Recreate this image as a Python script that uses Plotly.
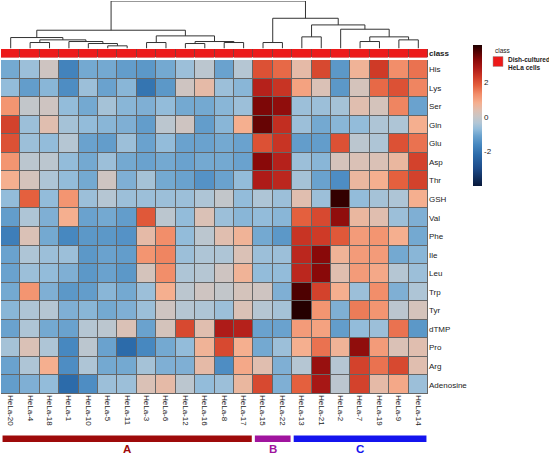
import plotly.graph_objects as go
import numpy as np

# ---------------- data ----------------
samples = ["HeLa-20", "HeLa-4", "HeLa-18", "HeLa-1", "HeLa-10", "HeLa-5", "HeLa-11",
           "HeLa-3", "HeLa-6", "HeLa-12", "HeLa-16", "HeLa-8", "HeLa-17", "HeLa-15",
           "HeLa-22", "HeLa-13", "HeLa-21", "HeLa-2", "HeLa-7", "HeLa-19", "HeLa-9", "HeLa-14"]
metabolites = ["His", "Lys", "Ser", "Gln", "Glu", "Asp", "Thr", "GSH", "Val", "Phe",
               "Ile", "Leu", "Trp", "Tyr", "dTMP", "Pro", "Arg", "Adenosine"]
groups = ["A"] * 13 + ["B"] * 2 + ["C"] * 7
group_colors = {"A": "#9E0A0A", "B": "#A0149E", "C": "#1414EE"}

His  = [-1.0, -0.6, 0.1, -1.7, -1.0, -1.0, -1.2, -1.3, -1.0, -0.6, -0.2, -1.1, -0.3, 2.0, 1.7, 0.5, 2.1, -1.3, 0.7, 2.3, 1.3, 1.6]
Lys  = [-0.7, -1.2, -0.8, -1.5, -0.6, -1.1, -0.8, -2.0, -1.3, 0.1, 0.5, -0.6, -0.8, 2.7, 2.4, 1.0, 0.3, -1.3, 0.2, 1.7, 2.0, 1.4]
Ser  = [1.2, -0.1, 0.1, -0.7, -1.0, -0.5, -0.8, -0.9, -0.7, -1.0, -1.0, -0.8, -0.6, 3.4, 3.2, -0.6, -0.6, -0.5, 0.4, 0.2, 1.4, -1.1]
Gln  = [2.2, -0.6, 0.4, -0.5, -0.7, -0.8, -0.9, -1.2, -0.2, 0.1, -1.2, -0.8, 0.8, 3.6, 2.5, -0.6, -1.0, -0.8, -0.7, -0.4, -0.4, 0.8]
Glu  = [2.0, -0.6, -0.7, -0.3, -1.1, -1.2, -0.6, -1.1, -0.7, -1.1, -1.1, -1.0, -1.1, 2.0, 2.4, -1.2, -1.2, 2.0, -0.2, -0.4, 2.0, 1.6]
Asp  = [1.2, -0.2, -0.2, -0.7, -1.0, -0.6, -1.0, -1.1, -1.0, -1.1, -1.0, -1.0, -1.1, 3.3, 2.7, -0.6, -0.8, 0.2, 0.3, 0.3, 0.6, 2.2]
Thr  = [0.8, 0.2, -0.4, -0.7, -1.0, 0.1, -0.9, -0.5, -1.0, -1.1, -1.4, -1.1, -0.7, 2.8, 2.6, -0.5, -1.1, -1.5, 0.6, 0.8, 1.8, 2.2]
GSH  = [-0.7, 1.8, -0.7, 1.2, -0.6, -0.3, -0.6, -0.6, -0.6, -0.6, -0.4, -0.1, -0.7, -0.4, -0.6, 0.4, -0.6, 4.0, -0.7, -0.5, -0.4, 0.8]
Val  = [-1.2, -0.4, -0.9, 0.8, -1.1, -1.0, -1.2, 1.9, -0.2, -0.7, 0.3, -0.6, -0.8, -0.7, -0.8, 1.8, 2.1, 3.2, 0.6, 0.4, -0.6, -0.9]
Phe  = [-1.8, 0.3, -1.0, -1.6, -1.3, -1.3, -1.4, 0.5, 1.3, -0.7, -0.2, 0.4, 0.7, -1.0, -1.3, 2.4, 2.3, 1.9, 1.1, 1.2, 0.8, -1.0]
Ile  = [-1.1, -0.4, -0.6, -0.6, -1.3, -1.1, -1.2, 1.2, 1.4, -0.6, -0.4, -0.4, 0.3, -0.6, -0.6, 2.6, 3.3, 0.7, 1.1, 1.1, -1.0, -0.8]
Leu  = [-1.1, -0.6, -0.7, -0.9, -1.3, -1.1, -1.3, 0.2, 1.3, -0.4, -0.3, 0.1, 0.7, -0.7, -0.7, 2.6, 3.3, 0.4, 1.1, 0.9, -0.3, -0.6]
Trp  = [-1.0, 1.2, -0.9, -1.3, -1.2, -0.8, -1.0, -0.6, 0.8, -0.2, 0.1, -0.1, 0.2, 0.1, -0.9, 3.8, 2.2, 0.8, -0.6, 1.3, -0.9, -0.4]
Tyr  = [-0.8, -0.4, -0.3, -0.9, -0.8, -1.0, -0.9, -0.6, 0.1, -0.3, -0.4, -0.6, 0.3, -0.3, -0.5, 4.1, 1.2, -0.9, 1.5, 1.2, -0.2, 0.2]
dTMP = [-1.1, -0.4, -1.0, -1.1, -0.3, -0.2, 0.3, -1.1, 0.2, 2.1, 0.4, 2.8, 2.7, -1.1, -1.1, 1.1, 1.0, -1.2, -0.7, -0.6, 1.6, -1.3]
Pro  = [-0.5, 0.3, -0.4, -1.6, -0.2, -1.1, -2.2, -1.6, -1.0, -0.7, 0.7, 2.1, 0.8, -1.0, -0.6, 0.8, 1.6, 0.7, 3.2, 1.1, 0.3, 0.4]
Arg  = [-1.1, -0.4, 0.8, -1.5, -0.4, -1.0, -1.0, -0.5, -0.9, -0.9, 0.5, -1.5, 0.9, 0.4, -0.9, -0.3, 3.1, -0.3, 2.2, 1.6, 2.1, 0.4]
Adenosine = [-1.2, -0.9, -0.7, -2.2, -1.5, -0.6, -0.6, 0.3, 0.5, -0.2, -0.7, -0.6, 0.6, 2.1, -0.9, 1.8, 2.9, -0.2, 2.2, 0.5, 0.9, -0.6]

Z = [His, Lys, Ser, Gln, Glu, Asp, Thr, GSH, Val, Phe, Ile, Leu, Trp, Tyr, dTMP, Pro, Arg, Adenosine]

# column dendrogram: (left node, right node, height); leaves 0..21, merges numbered from 22
merges = [
    (1, 2, 18), (5, 6, 8), (4, 23, 15), (3, 24, 21), (22, 25, 26), (0, 26, 33),
    (7, 8, 18), (9, 10, 15), (11, 12, 18), (29, 30, 21), (28, 31, 38), (27, 32, 55),
    (13, 14, 18), (15, 16, 35), (18, 19, 21), (20, 21, 26), (36, 37, 35),
    (17, 38, 58), (35, 39, 71), (34, 40, 91), (33, 41, 143),
]

zmin, zmax = -4.0, 4.15
cs_points = [(-4.0, "#08183A"), (-3.0, "#1D4A88"), (-2.2, "#2C6BAA"), (-1.6, "#4788C0"),
             (-1.1, "#6AA2CE"), (-0.7, "#93BCDA"), (-0.35, "#B2C6D5"), (0.0, "#C8C6C6"),
             (0.35, "#DDC0B3"), (0.8, "#F5AF8F"), (1.3, "#F28E6A"), (1.8, "#E4603E"),
             (2.3, "#CF3A27"), (2.8, "#AE1B18"), (3.3, "#890909"), (3.8, "#4E0101"),
             (4.15, "#1E0000")]
colorscale = [[(v - zmin) / (zmax - zmin), c] for v, c in cs_points]

# ---------------- layout helpers ----------------
W, H = 549, 456
FONT = "Liberation Sans, Arial, sans-serif"
def fx(p):
    return p / W
def fy(p):
    return 1 - p / H

n_cols = len(samples)
n_rows = len(metabolites)
xs = list(range(n_cols))
ys = list(range(n_rows))

fig = go.Figure()

# main heatmap
fig.add_trace(go.Heatmap(
    z=Z, x=xs, y=ys, zmin=zmin, zmax=zmax, colorscale=colorscale,
    xgap=1, ygap=1, hoverinfo="skip",
    colorbar=dict(x=fx(472.5), xanchor="left", y=fy(45), yanchor="top",
                  len=141, lenmode="pixels", thickness=9, thicknessmode="pixels",
                  tickvals=[-2, 0, 2], ticktext=["-2", "0", "2"], ticks="",
                  tickfont=dict(size=8, color="#222", family=FONT),
                  outlinewidth=0, xpad=0, ypad=0),
))

# class bar
fig.add_trace(go.Heatmap(
    z=[[1] * n_cols], x=xs, y=[0], yaxis="y2", zmin=0, zmax=1,
    colorscale=[[0, "#EC1A1A"], [1, "#EC1A1A"]], showscale=False,
    xgap=1, hoverinfo="skip",
))

# dendrogram coordinates computed from the merge list
pos = {i: float(i) for i in range(n_cols)}
hgt = {i: 0.0 for i in range(n_cols)}
dx, dy = [], []
for k, (a, b, h) in enumerate(merges):
    node = n_cols + k
    dx += [pos[a], pos[a], pos[b], pos[b], None]
    dy += [hgt[a], h, h, hgt[b], None]
    pos[node] = (pos[a] + pos[b]) / 2
    hgt[node] = h
fig.add_trace(go.Scatter(x=dx, y=dy, yaxis="y3", mode="lines",
                         line=dict(color="#333333", width=1), hoverinfo="skip",
                         showlegend=False))

shapes = []
annotations = []

# gray backgrounds behind heatmap cells and class bar (visible through the gaps)
shapes.append(dict(type="rect", xref="x", yref="y", x0=-0.5, x1=n_cols - 0.5,
                   y0=-0.5, y1=n_rows - 0.5, fillcolor="#666666",
                   line=dict(color="#666666", width=1), layer="below"))
shapes.append(dict(type="rect", xref="x", yref="y2", x0=-0.5, x1=n_cols - 0.5,
                   y0=-0.5, y1=0.5, fillcolor="#8a3a3a", line_width=0, layer="below"))

# group bars and letters
for g in ["A", "B", "C"]:
    idx = [i for i, gg in enumerate(groups) if gg == g]
    x0, x1 = min(idx) - 0.42, max(idx) + 0.42
    shapes.append(dict(type="rect", xref="x", yref="paper", x0=x0, x1=x1,
                       y0=fy(442), y1=fy(435.5), fillcolor=group_colors[g], line_width=0))
    annotations.append(dict(x=(min(idx) + max(idx)) / 2, y=fy(455.5), xref="x", yref="paper",
                            text="<b>%s</b>" % g, showarrow=False, yanchor="bottom",
                            borderpad=0,
                            font=dict(size=11.5, color=group_colors[g], family=FONT)))

# class legend
shapes.append(dict(type="rect", xref="paper", yref="paper", x0=fx(493), x1=fx(503),
                   y0=fy(66.5), y1=fy(56.5), fillcolor="#EC1A1A", line=dict(color="#999", width=0.5)))
annotations += [
    dict(x=fx(493), y=fy(51), xref="paper", yref="paper", text="class", showarrow=False,
         xanchor="left", yanchor="middle", font=dict(size=6.5, color="#222", family=FONT)),
    dict(x=fx(506), y=fy(59.5), xref="paper", yref="paper", text="<b>Dish-cultured</b>",
         showarrow=False, xanchor="left", yanchor="middle",
         font=dict(size=6.5, color="#222", family=FONT)),
    dict(x=fx(506), y=fy(67.5), xref="paper", yref="paper", text="<b>HeLa cells</b>",
         showarrow=False, xanchor="left", yanchor="middle",
         font=dict(size=6.5, color="#222", family=FONT)),
]

fig.update_layout(
    width=W, height=H, margin=dict(l=0, r=0, t=0, b=0, autoexpand=False),
    paper_bgcolor="white", plot_bgcolor="white",
    showlegend=False, font=dict(family=FONT, color="#222"),
    shapes=shapes, annotations=annotations,
    xaxis=dict(domain=[fx(1), fx(428)], range=[-0.5, n_cols - 0.5], anchor="y",
               tickvals=xs, ticktext=samples, tickangle=90, ticks="",
               tickfont=dict(size=8, color="#222", family=FONT), automargin=False,
               showgrid=False, zeroline=False, showline=False),
    yaxis=dict(domain=[fy(394), fy(60)], range=[n_rows - 0.5, -0.5], anchor="x",
               side="right", tickvals=ys, ticktext=metabolites, ticks="",
               tickfont=dict(size=8, color="#222", family=FONT), automargin=False,
               showgrid=False, zeroline=False, showline=False),
    yaxis2=dict(domain=[fy(57.5), fy(49)], range=[-0.5, 0.5], anchor="x",
                side="right", tickvals=[0], ticktext=["<b>class</b>"], ticks="",
                tickfont=dict(size=8, color="#222", family=FONT), automargin=False,
                showgrid=False, zeroline=False, showline=False),
    yaxis3=dict(domain=[fy(48.5), fy(1)], range=[0, 143], anchor="x",
                showticklabels=False, ticks="", showgrid=False, zeroline=False,
                showline=False, automargin=False),
)

fig.write_html("out.html", config={"displayModeBar": False},
               post_script="document.body.style.margin='0px';")
